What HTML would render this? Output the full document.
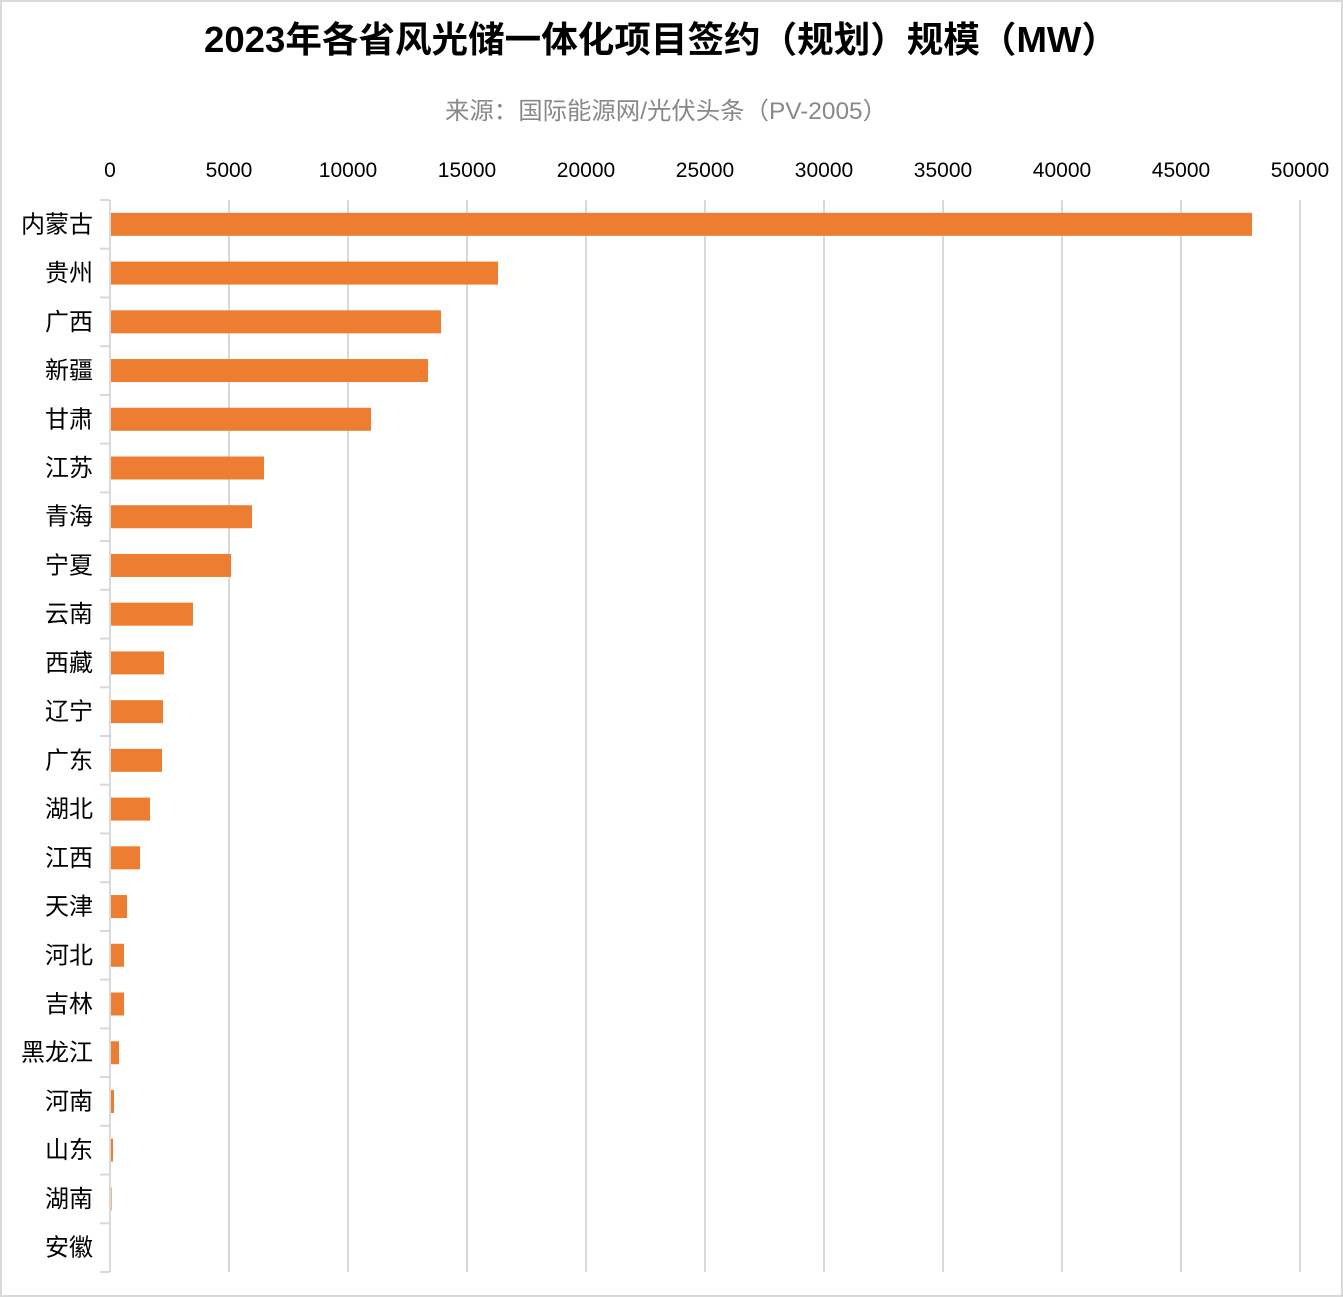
<!DOCTYPE html>
<html><head><meta charset="utf-8"><style>html,body{margin:0;padding:0;background:#fff}svg{display:block}</style></head>
<body>
<svg width="1343" height="1297" xmlns="http://www.w3.org/2000/svg" font-family="'Liberation Sans','Noto Sans CJK SC',sans-serif">
<rect x="1" y="1" width="1341" height="1295" fill="#fff" stroke="#d9d9d9" stroke-width="2"/>
<text x="661" y="52" text-anchor="middle" font-size="36" font-weight="bold" fill="#000" textLength="914" lengthAdjust="spacingAndGlyphs">2023年各省风光储一体化项目签约（规划）规模（MW）</text>
<text x="666" y="119" text-anchor="middle" font-size="24" fill="#888" textLength="442" lengthAdjust="spacingAndGlyphs">来源：国际能源网/光伏头条（PV-2005）</text>
<g stroke="#d9d9d9" stroke-width="2">
<line x1="229" y1="200" x2="229" y2="1272"/><line x1="348" y1="200" x2="348" y2="1272"/><line x1="467" y1="200" x2="467" y2="1272"/><line x1="586" y1="200" x2="586" y2="1272"/><line x1="705" y1="200" x2="705" y2="1272"/><line x1="824" y1="200" x2="824" y2="1272"/><line x1="943" y1="200" x2="943" y2="1272"/><line x1="1062" y1="200" x2="1062" y2="1272"/><line x1="1181" y1="200" x2="1181" y2="1272"/><line x1="1300" y1="200" x2="1300" y2="1272"/>
<line x1="110" y1="200" x2="110" y2="1272"/>
</g>
<g font-size="21" fill="#000" text-anchor="middle">
<text x="110" y="177">0</text><text x="229" y="177">5000</text><text x="348" y="177">10000</text><text x="467" y="177">15000</text><text x="586" y="177">20000</text><text x="705" y="177">25000</text><text x="824" y="177">30000</text><text x="943" y="177">35000</text><text x="1062" y="177">40000</text><text x="1181" y="177">45000</text><text x="1300" y="177">50000</text>
</g>
<g id="ticks" stroke="#d9d9d9" stroke-width="2"></g>
<g id="bars" fill="#ed7d31"></g>
<g id="labels" font-size="24" fill="#000" text-anchor="end"></g>
<script>
var names=["内蒙古","贵州","广西","新疆","甘肃","江苏","青海","宁夏","云南","西藏","辽宁","广东","湖北","江西","天津","河北","吉林","黑龙江","河南","山东","湖南","安徽"];
var ends=[1252,498,441,428,371,264,252,231,193,164,163,162,150,140,127,124,124,119,114,113,111.6,111];
var ns="http://www.w3.org/2000/svg",step=(1272-200)/22;
var T=document.getElementById("ticks"),B=document.getElementById("bars"),L=document.getElementById("labels");
for(var i=0;i<=22;i++){var y=200+i*step;var l=document.createElementNS(ns,"line");l.setAttribute("x1",100);l.setAttribute("x2",110);l.setAttribute("y1",y);l.setAttribute("y2",y);T.appendChild(l);}
for(var i=0;i<22;i++){var c=200+(i+0.5)*step;
var r=document.createElementNS(ns,"rect");r.setAttribute("x",111);r.setAttribute("y",c-11.5);r.setAttribute("width",Math.max(0,ends[i]-111));r.setAttribute("height",23);B.appendChild(r);
var t=document.createElementNS(ns,"text");t.setAttribute("x",93);t.setAttribute("y",c+8);t.textContent=names[i];L.appendChild(t);}
</script>
</svg>
</body></html>
